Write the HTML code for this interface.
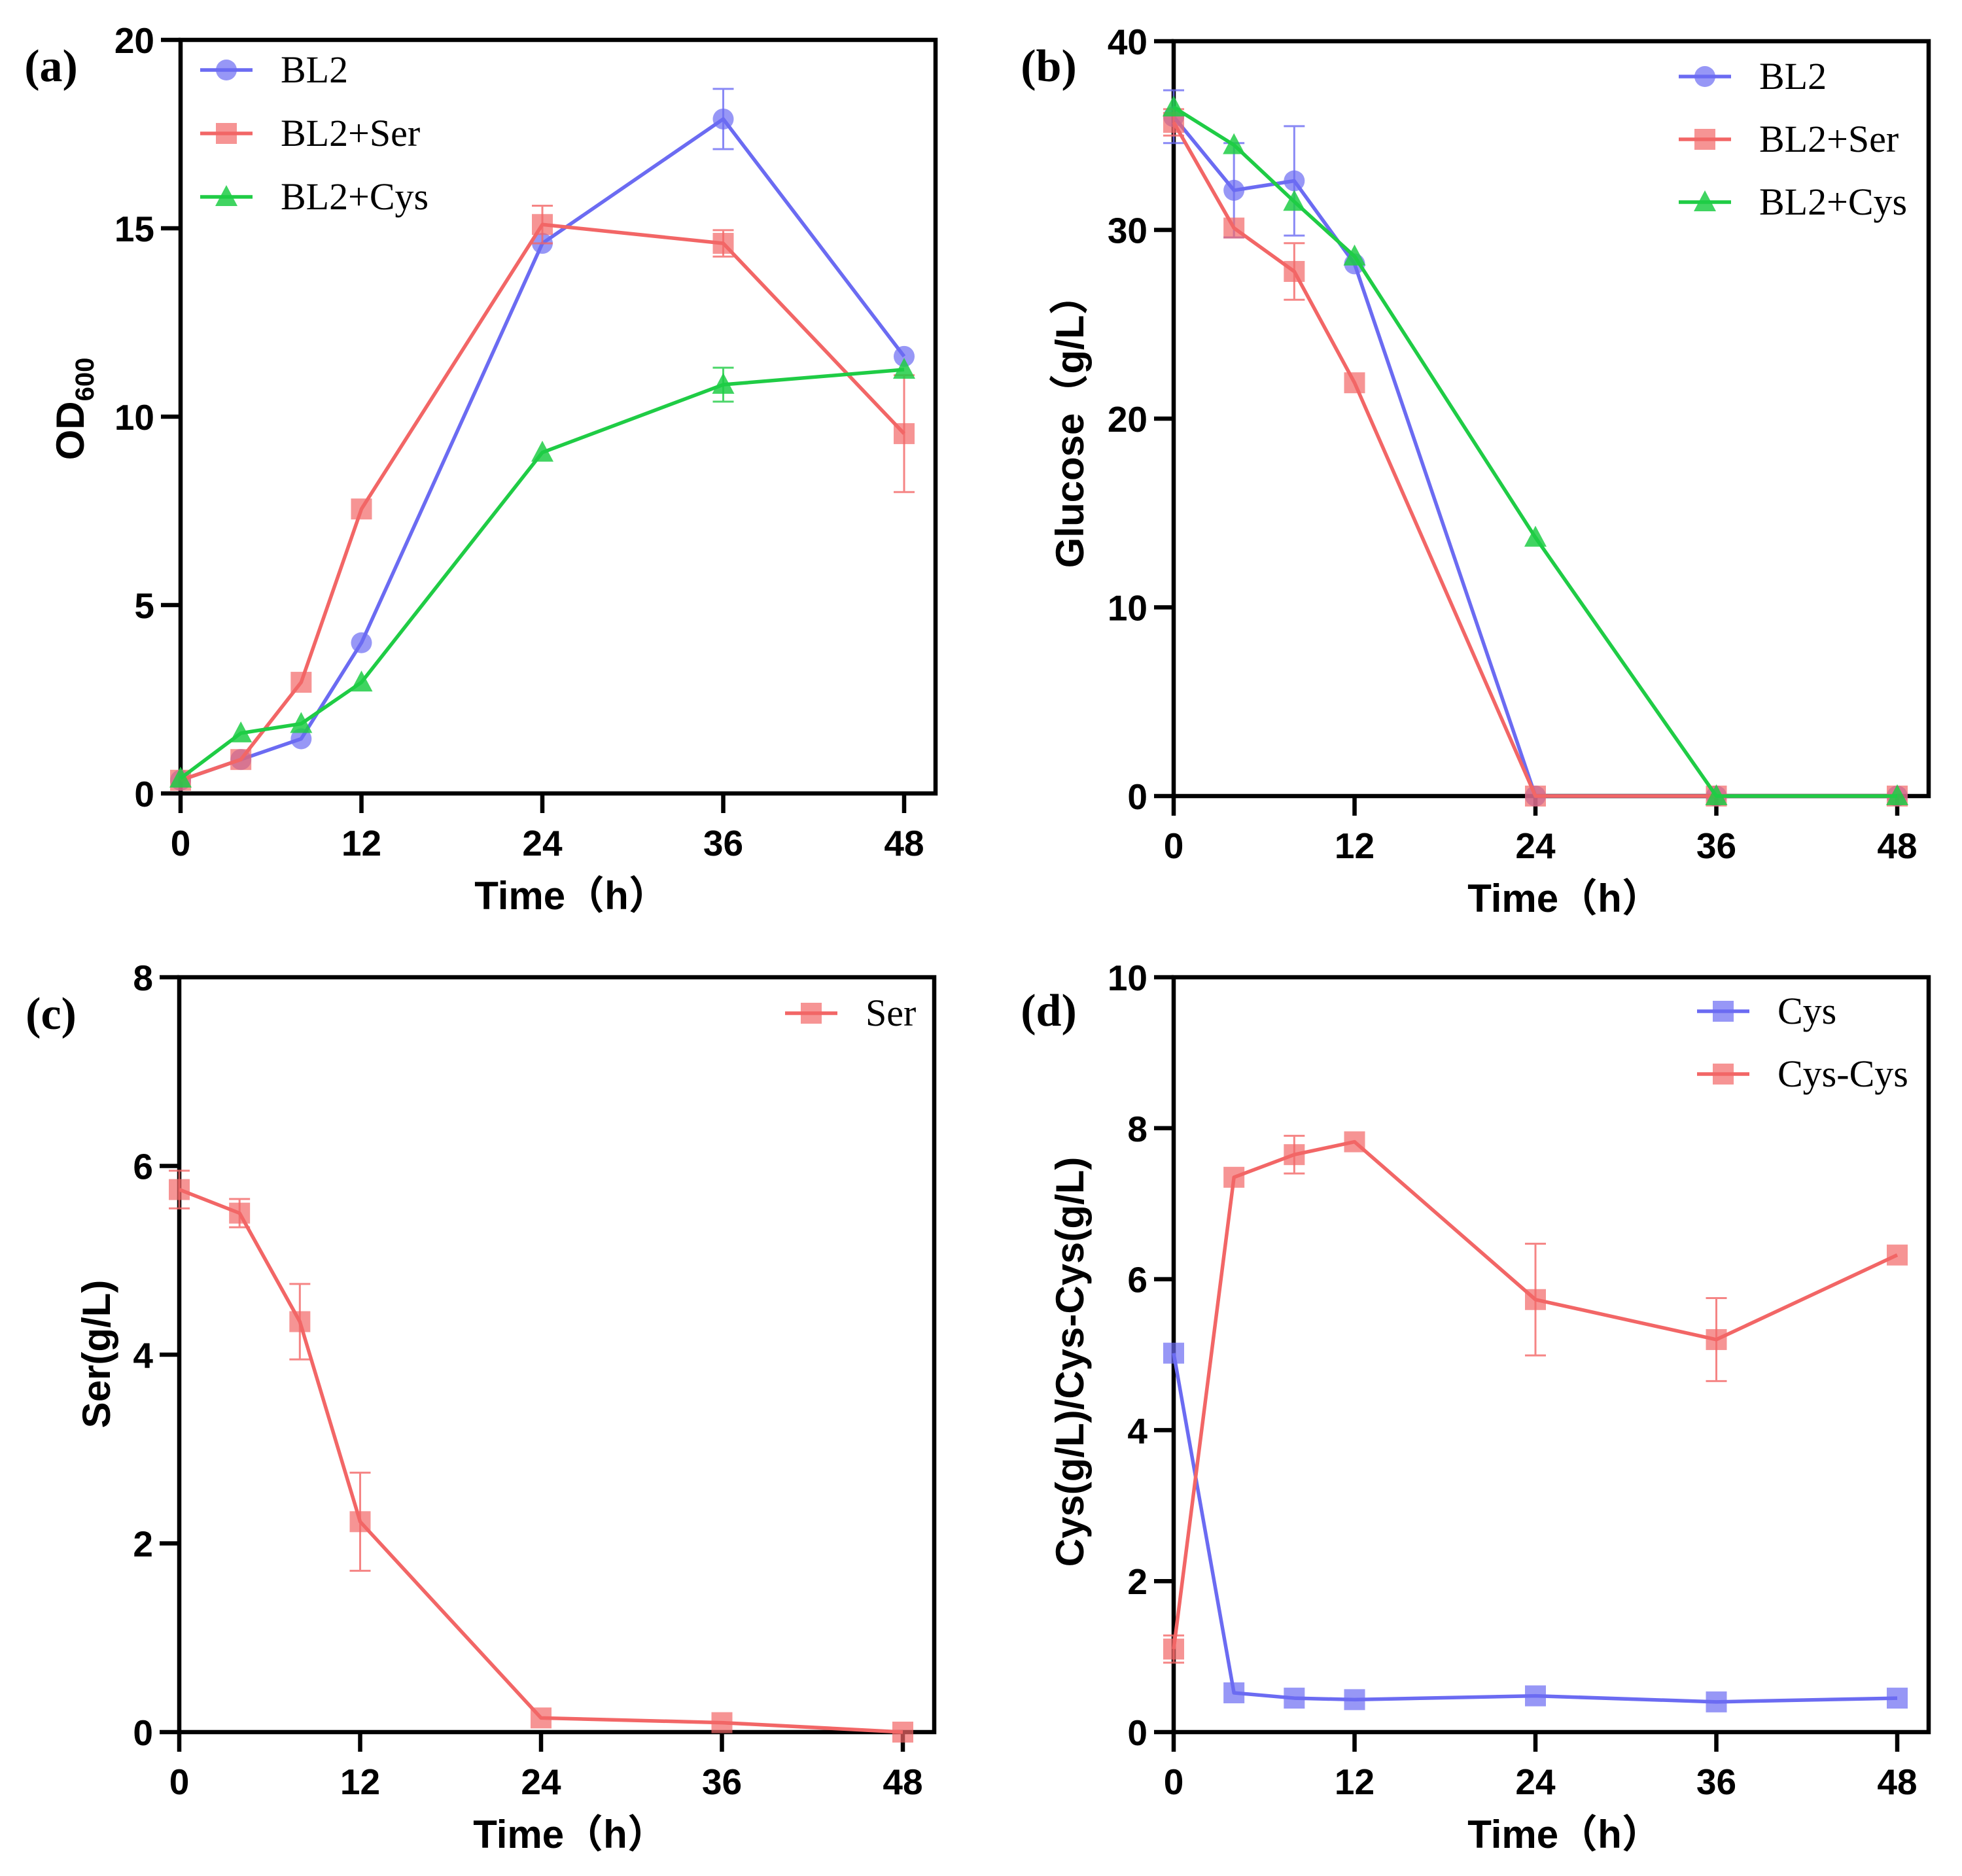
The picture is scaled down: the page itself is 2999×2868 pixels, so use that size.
<!DOCTYPE html>
<html><head><meta charset="utf-8">
<style>
html,body{margin:0;padding:0;background:#fff;}
svg{display:block;}
.tick{font-family:"Liberation Sans",Arial,sans-serif;font-weight:bold;font-size:55px;fill:#000;}
.ttl{font-family:"Liberation Sans","Noto Sans CJK SC",sans-serif;font-weight:bold;font-size:60px;fill:#000;}
.leg{font-family:"Liberation Serif","Times New Roman",serif;font-size:58px;fill:#000;}
.plab{font-family:"Liberation Serif","Times New Roman",serif;font-weight:bold;font-size:70px;fill:#000;}
</style></head>
<body>
<svg id="fig" width="2999" height="2868" viewBox="0 0 2999 2868" xmlns="http://www.w3.org/2000/svg"></svg>
<script>
// ---- data ----
const times = [0, 4, 8, 12, 24, 36, 48];
const xTicks = [0, 12, 24, 36, 48];

const odBL2 = [0.35, 0.9, 1.45, 4.0, 14.6, 17.9, 11.6];
const odBL2Err = [0, 0, 0, 0, 0, 0.8, 0];
const odSer = [0.35, 0.9, 2.95, 7.55, 15.1, 14.6, 9.55];
const odSerErr = [0, 0, 0, 0, 0.5, 0.35, 1.55];
const odCys = [0.4, 1.6, 1.85, 2.95, 9.05, 10.85, 11.25];
const odCysErr = [0, 0, 0, 0, 0, 0.45, 0];
const odTicks = [0, 5, 10, 15, 20];

const gluBL2 = [36.0, 32.1, 32.6, 28.2, 0, 0, 0];
const gluBL2Err = [1.4, 2.5, 2.9, 0, 0, 0, 0];
const gluSer = [35.7, 30.1, 27.8, 21.9, 0, 0, 0];
const gluSerErr = [0.7, 0, 1.5, 0, 0, 0, 0];
const gluCys = [36.5, 34.5, 31.5, 28.6, 13.7, 0, 0];
const gluCysErr = [0, 0, 0, 0, 0, 0, 0];
const gluTicks = [0, 10, 20, 30, 40];

const serVals = [5.75, 5.5, 4.35, 2.23, 0.15, 0.1, 0.0];
const serErr = [0.2, 0.15, 0.4, 0.52, 0, 0, 0];
const serTicks = [0, 2, 4, 6, 8];

const cysVals = [5.02, 0.52, 0.45, 0.43, 0.48, 0.40, 0.45];
const cysErr = [0, 0, 0, 0, 0, 0, 0];
const cyscysVals = [1.1, 7.35, 7.65, 7.82, 5.73, 5.2, 6.32];
const cyscysErr = [0.18, 0, 0.25, 0, 0.74, 0.55, 0];
const cysTicks = [0, 2, 4, 6, 8, 10];

const BLUE = '#6b6bf2', RED = '#f26666', GREEN = '#1fcc45';
const NS = 'http://www.w3.org/2000/svg';
const svg = document.getElementById('fig');

function mk(tag, attrs, parent) {
  const e = document.createElementNS(NS, tag);
  for (const k in attrs) e.setAttribute(k, attrs[k]);
  (parent || svg).appendChild(e);
  return e;
}

function panel(p) {
  const g = mk('g', {});
  
  
  const xs = v => p.x0 + (v - 0) / 48 * (p.x48 - p.x0);
  const ys = v => p.y0 - v / p.ymax * (p.y0 - p.top);
  const fr = mk('path', {d: `M${p.x0} ${p.top} H${p.right} V${p.y0} H${p.x0} Z`, fill: 'none', stroke: '#000', 'stroke-width': 6.5}, g);
  
  
  p.yTicks.forEach(t => {
    const y = ys(t);
    mk('line', {x1: p.x0 - 30, x2: p.x0, y1: y, y2: y, stroke: '#000', 'stroke-width': 6.5}, g);
    const tx = mk('text', {x: p.x0 - 40, y: y + 20, 'text-anchor': 'end', class: 'tick'}, g);
    tx.textContent = t;
    
    
  });
  xTicks.forEach(t => {
    const x = xs(t);
    mk('line', {x1: x, x2: x, y1: p.y0, y2: p.y0 + 30, stroke: '#000', 'stroke-width': 6.5}, g);
    const tx = mk('text', {x: x, y: p.y0 + 95, 'text-anchor': 'middle', class: 'tick'}, g);
    tx.textContent = t;
    
    
  });
  p.series.forEach(s => {
    const sg = mk('g', {}, g);
    
    
    const pts = times.map((t, i) => [xs(t), ys(s.vals[i])]);
    const ln = mk('polyline', {points: pts.map(q => q.join(',')).join(' '), fill: 'none', stroke: s.color, 'stroke-width': 5.5, 'stroke-linejoin': 'round'}, sg);
    
    
    times.forEach((t, i) => {
      const e = s.err[i];
      if (e > 0) {
        const x = xs(t), y1 = ys(s.vals[i] + e), y2 = ys(s.vals[i] - e);
        mk('path', {d: `M${x} ${y1} V${y2} M${x - 16} ${y1} H${x + 16} M${x - 16} ${y2} H${x + 16}`, stroke: s.color, 'stroke-width': 3, fill: 'none', opacity: 0.8}, sg);
      }
    });
    pts.forEach(q => {
      const m = marker(s.shape, q[0], q[1], s.color, sg);
      
      
    });
  });
  p.series.forEach((s, i) => {
    const y = p.legY + i * p.legDy;
    const lg = mk('g', {}, g);
    
    
    mk('line', {x1: p.legX - 40, x2: p.legX + 40, y1: y, y2: y, stroke: s.color, 'stroke-width': 5.5}, lg);
    marker(s.shape, p.legX, y, s.color, lg);
    const tx = mk('text', {x: p.legX + 83, y: y + 19, class: 'leg'}, lg);
    tx.textContent = s.label;
  });
  const xt = mk('text', {x: (p.x0 + p.right) / 2 + 20, y: p.y0 + 177, 'text-anchor': 'middle', class: 'ttl'}, g);
  xt.textContent = 'Time（h）';
  
  
  const yt = mk('text', {x: 0, y: 0, 'text-anchor': 'middle', class: 'ttl', transform: `translate(${p.ytX},${p.ytY}) rotate(-90)`}, g);
  if (p.ytSub) {
    yt.textContent = p.ytitle;
    const sub = mk('tspan', {'font-size': '40px', dy: 15}, yt);
    sub.textContent = p.ytSub;
  } else yt.textContent = p.ytitle;
  
  
  const pl = mk('text', {x: p.labX, y: p.labY, 'text-anchor': 'middle', class: 'plab'}, g);
  pl.textContent = p.lab;
  
  
}

function marker(shape, x, y, c, parent) {
  if (shape === 'circle') return mk('circle', {cx: x, cy: y, r: 16, fill: c, 'fill-opacity': 0.7}, parent);
  if (shape === 'square') return mk('rect', {x: x - 16, y: y - 16, width: 32, height: 32, fill: c, 'fill-opacity': 0.7}, parent);
  return mk('path', {d: `M${x} ${y - 18} L${x + 17} ${y + 14} L${x - 17} ${y + 14} Z`, fill: c, 'fill-opacity': 0.85}, parent);
}

panel({name: 'panel-a-od600', x0: 276, x48: 1382, right: 1430, top: 61, y0: 1213, ymax: 20, yTicks: odTicks,
  series: [
    {label: 'BL2', vals: odBL2, err: odBL2Err, color: BLUE, shape: 'circle'},
    {label: 'BL2+Ser', vals: odSer, err: odSerErr, color: RED, shape: 'square'},
    {label: 'BL2+Cys', vals: odCys, err: odCysErr, color: GREEN, shape: 'tri'}],
  legX: 346, legY: 107, legDy: 97, ytitle: 'OD', ytSub: '600', ytX: 128, ytY: 625, lab: '(a)', labX: 78, labY: 124});

panel({name: 'panel-b-glucose', x0: 1794, x48: 2900, right: 2948, top: 63, y0: 1217, ymax: 40, yTicks: gluTicks,
  series: [
    {label: 'BL2', vals: gluBL2, err: gluBL2Err, color: BLUE, shape: 'circle'},
    {label: 'BL2+Ser', vals: gluSer, err: gluSerErr, color: RED, shape: 'square'},
    {label: 'BL2+Cys', vals: gluCys, err: gluCysErr, color: GREEN, shape: 'tri'}],
  legX: 2606, legY: 117, legDy: 96, ytitle: 'Glucose（g/L）', ytX: 1656, ytY: 645, lab: '(b)', labX: 1603, labY: 124});

panel({name: 'panel-c-ser', x0: 274, x48: 1380, right: 1428, top: 1494, y0: 2648, ymax: 8, yTicks: serTicks,
  series: [
    {label: 'Ser', vals: serVals, err: serErr, color: RED, shape: 'square'}],
  legX: 1240, legY: 1549, legDy: 96, ytitle: 'Ser(g/L)', ytX: 168, ytY: 2070, lab: '(c)', labX: 78, labY: 1573});

panel({name: 'panel-d-cys', x0: 1794, x48: 2900, right: 2948, top: 1494, y0: 2648, ymax: 10, yTicks: cysTicks,
  series: [
    {label: 'Cys', vals: cysVals, err: cysErr, color: BLUE, shape: 'square'},
    {label: 'Cys-Cys', vals: cyscysVals, err: cyscysErr, color: RED, shape: 'square'}],
  legX: 2634, legY: 1546, legDy: 96, ytitle: 'Cys(g/L)/Cys-Cys(g/L)', ytX: 1656, ytY: 2082, lab: '(d)', labX: 1603, labY: 1568});
</script>
</body></html>
